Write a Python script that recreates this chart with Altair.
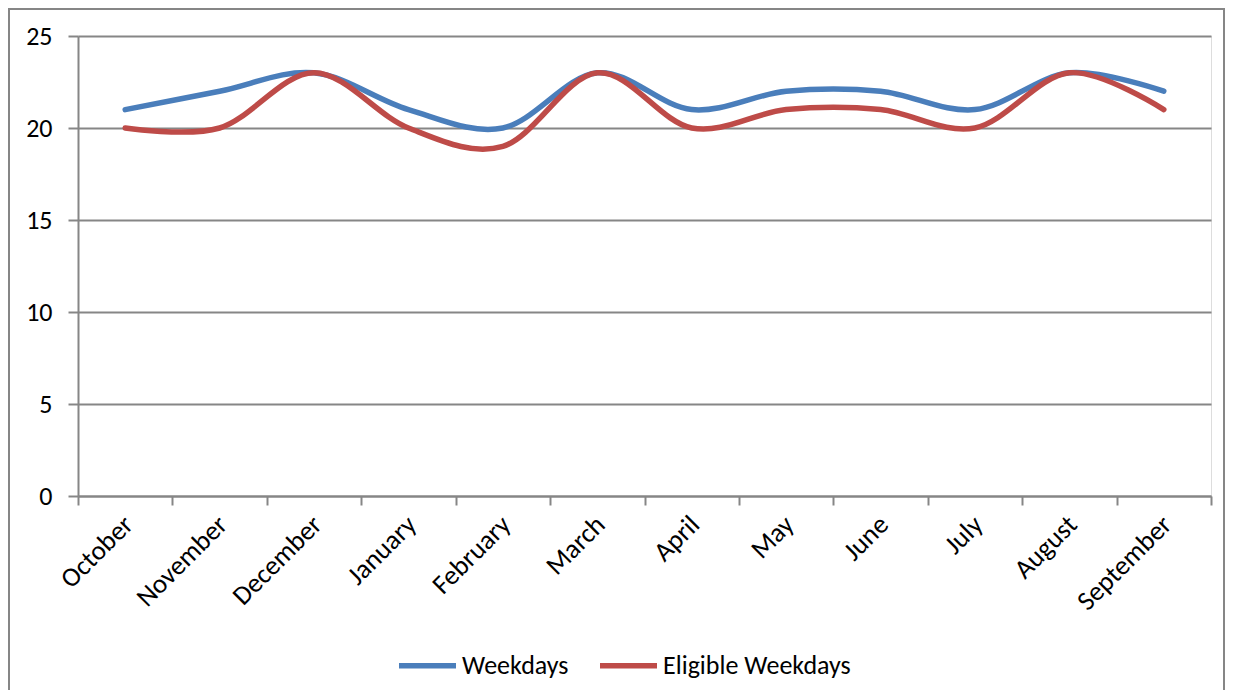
import altair as alt
import pandas as pd

months = ["October", "November", "December", "January", "February", "March",
          "April", "May", "June", "July", "August", "September"]
weekdays = [21, 22, 23, 21, 20, 23, 21, 22, 22, 21, 23, 22]
eligible = [20, 20, 23, 20, 19, 23, 20, 21, 21, 20, 23, 21]
series_names = ["Weekdays", "Eligible Weekdays"]
series_colors = ["#4A7EBB", "#BE4B48"]
y_ticks = [0, 5, 10, 15, 20, 25]

rows = []
for i, m in enumerate(months):
    rows.append({"month": m, "order": i, "series": series_names[0], "value": weekdays[i]})
    rows.append({"month": m, "order": i, "series": series_names[1], "value": eligible[i]})
df = pd.DataFrame(rows)

FONT = "Carlito, Lato, sans-serif"
FS = 26

lines = alt.Chart(df).mark_line(interpolate="cardinal", strokeWidth=5.5, strokeCap="round").encode(
    x=alt.X("month:N", sort=months, title=None,
            scale=alt.Scale(paddingInner=0, paddingOuter=0),
            axis=alt.Axis(labelAngle=-45, tickBand="extent", grid=False,
                          domainColor="#868686", domainWidth=2,
                          tickColor="#868686", tickWidth=2, tickSize=9,
                          labelFontSize=27, labelFont=FONT, labelColor="#000000",
                          labelPadding=6, labelOffset=-6, labelLimit=400)),
    y=alt.Y("value:Q", title=None,
            scale=alt.Scale(domain=[0, 25], nice=False),
            axis=alt.Axis(values=y_ticks, grid=True, gridColor="#868686", gridWidth=2,
                          domainColor="#868686", domainWidth=2,
                          tickColor="#868686", tickWidth=2, tickSize=10,
                          labelFontSize=FS, labelFont=FONT, labelColor="#000000",
                          labelPadding=16)),
    color=alt.Color("series:N", sort=series_names,
                    scale=alt.Scale(domain=series_names, range=series_colors),
                    legend=alt.Legend(title=None, orient="none", direction="horizontal",
                                      legendX=318, legendY=598,
                                      symbolType="stroke", symbolStrokeWidth=5.5,
                                      symbolSize=3249, labelFontSize=FS, labelFont=FONT,
                                      labelColor="#000000", columnPadding=20,
                                      labelOffset=3, labelLimit=400)),
    order="order:Q",
)

border = alt.Chart(pd.DataFrame({"a": [0]})).mark_rect(
    fill=None, stroke="#868686", strokeWidth=2
).encode(
    x=alt.value(-69), x2=alt.value(1146), y=alt.value(-27), y2=alt.value(720)
)

chart = alt.layer(border, lines).properties(
    width=1133, height=460,
    autosize=alt.AutoSizeParams(type="none"),
    padding={"left": 70, "top": 28, "right": 15, "bottom": 194},
).configure_view(stroke=None).configure(background="#ffffff")

chart.save("out.html", embed_options={"renderer": "svg", "actions": False})
